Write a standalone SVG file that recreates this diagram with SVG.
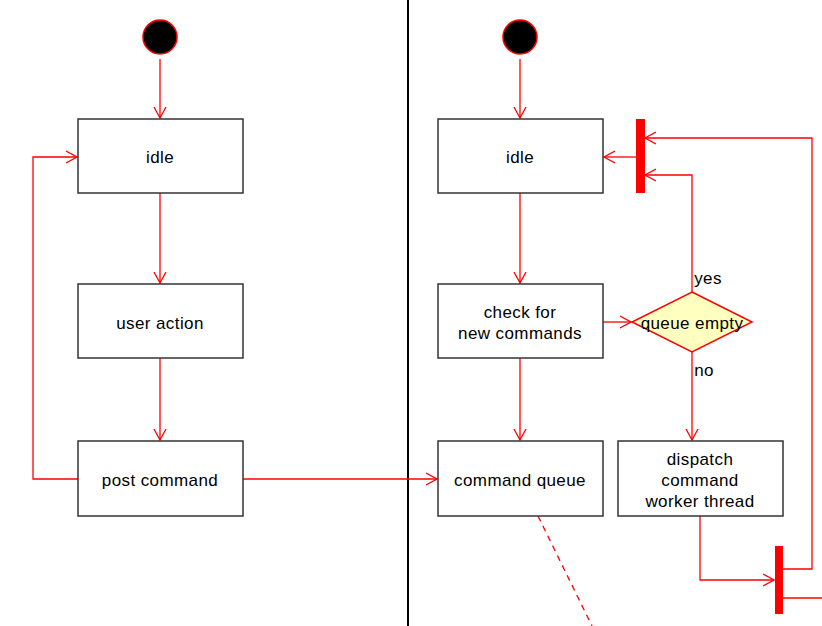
<svg xmlns="http://www.w3.org/2000/svg" width="822" height="626" viewBox="0 0 822 626">
<defs>
<marker id="arr" markerWidth="12" markerHeight="14" refX="11" refY="7" orient="auto" markerUnits="userSpaceOnUse">
<path d="M0,1 L11,7 L0,13" fill="none" stroke="#ff0000" stroke-width="1.3"/>
</marker>
<style>
.box{fill:#fff;stroke:#333;stroke-width:1.5}
.lbl{font-family:"Liberation Sans",Arial,sans-serif;font-size:17px;letter-spacing:0.4px;fill:#000;text-anchor:middle}
.c{fill:none;stroke:#ff0000;stroke-width:1.3}
.start{fill:#000;stroke:#ff0000;stroke-width:1.5}
.bar{fill:#ff0000}
</style>
</defs>
<rect width="822" height="626" fill="#fff"/>
<line x1="408" y1="0" x2="408" y2="626" stroke="#000" stroke-width="2"/>
<g id="connectors">
<path class="c" d="M160,59 L160,118" marker-end="url(#arr)"/>
<path class="c" d="M160,193 L160,283" marker-end="url(#arr)"/>
<path class="c" d="M160,358 L160,440" marker-end="url(#arr)"/>
<path class="c" d="M78,479 L33,479 L33,157 L77,157" marker-end="url(#arr)"/>
<path class="c" d="M243,479 L437,479" marker-end="url(#arr)"/>
<path class="c" d="M520,59 L520,118" marker-end="url(#arr)"/>
<path class="c" d="M520,193 L520,283" marker-end="url(#arr)"/>
<path class="c" d="M520,358 L520,440" marker-end="url(#arr)"/>
<path class="c" d="M603,322 L631,322" marker-end="url(#arr)"/>
<path class="c" d="M692,292 L692,175 L645,175" marker-end="url(#arr)"/>
<path class="c" d="M692,352 L692,440" marker-end="url(#arr)"/>
<path class="c" d="M636,157 L604,157" marker-end="url(#arr)"/>
<path class="c" d="M700,516 L700,580 L774,580" marker-end="url(#arr)"/>
<path class="c" d="M783,569 L812,569 L812,138 L645,138" marker-end="url(#arr)"/>
<path class="c" d="M783,598 L822,598"/>
<path class="c" d="M538,516 L592,626" stroke-dasharray="6,5"/>
<text class="lbl" x="708" y="284">yes</text>
<text class="lbl" x="704" y="376">no</text>
</g>
<g id="start1"><circle class="start" cx="160" cy="37" r="17"/></g>
<g id="idle1"><rect class="box" x="78" y="119" width="165" height="74"/><text class="lbl" x="160" y="163">idle</text></g>
<g id="useraction"><rect class="box" x="78" y="284" width="165" height="74"/><text class="lbl" x="160" y="329">user action</text></g>
<g id="postcommand"><rect class="box" x="78" y="441" width="165" height="75"/><text class="lbl" x="160" y="486">post command</text></g>
<g id="start2"><circle class="start" cx="520" cy="37" r="17"/></g>
<g id="idle2"><rect class="box" x="438" y="119" width="165" height="74"/><text class="lbl" x="520" y="163">idle</text></g>
<g id="check"><rect class="box" x="438" y="284" width="165" height="74"/><text class="lbl" x="520" y="318">check for</text><text class="lbl" x="520" y="339">new commands</text></g>
<g id="cmdqueue"><rect class="box" x="438" y="441" width="165" height="75"/><text class="lbl" x="520" y="486">command queue</text></g>
<g id="decision"><polygon points="692,292 752,322 692,352 632,322" fill="#ffffc0" stroke="#ff0000" stroke-width="1.5"/><text class="lbl" x="692" y="329">queue empty</text></g>
<g id="dispatch"><rect class="box" x="618" y="441" width="165" height="75"/><text class="lbl" x="700" y="465">dispatch</text><text class="lbl" x="700" y="486">command</text><text class="lbl" x="700" y="507">worker thread</text></g>
<g id="bar1"><rect class="bar" x="636" y="119" width="9" height="74"/></g>
<g id="bar2"><rect class="bar" x="775" y="546" width="8" height="68"/></g>
</svg>
